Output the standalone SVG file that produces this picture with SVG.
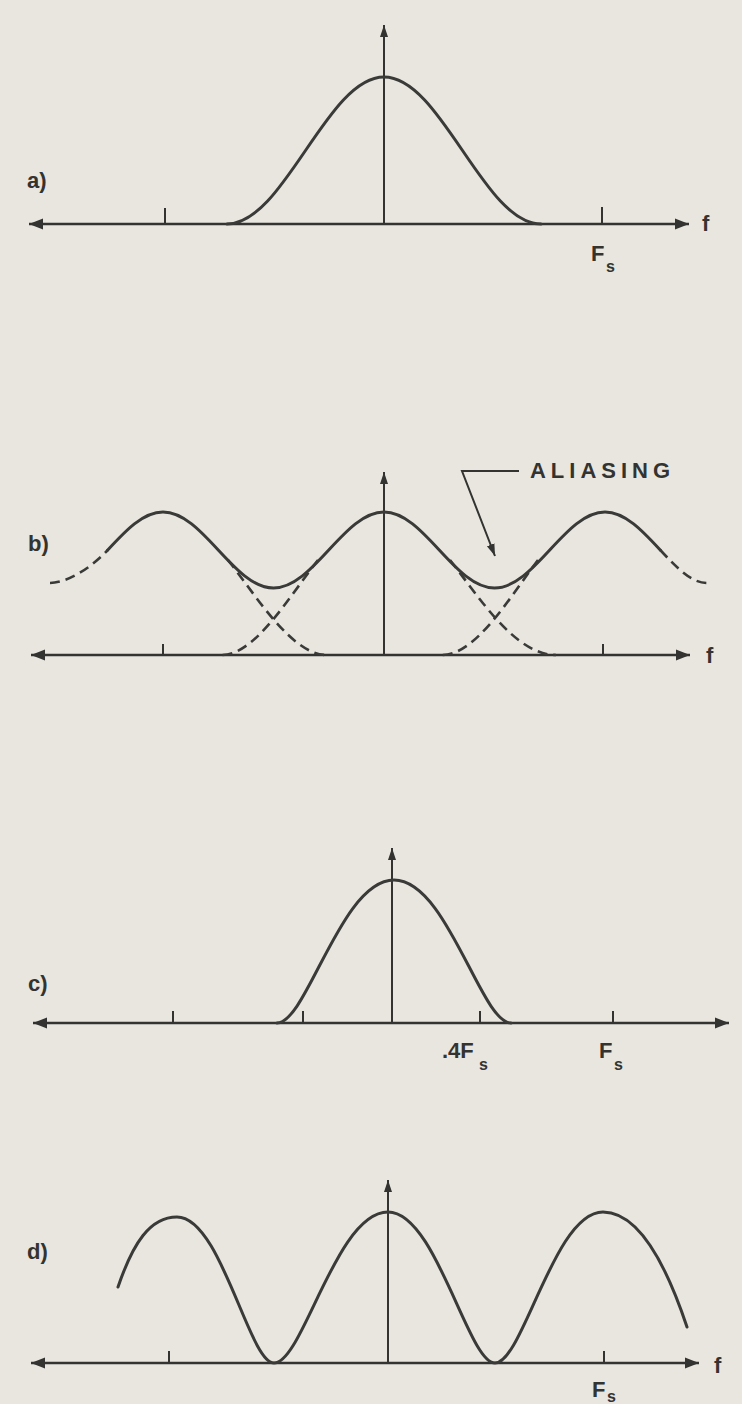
<svg xmlns="http://www.w3.org/2000/svg" width="742" height="1404" viewBox="0 0 742 1404">
<style>
.bg{fill:#e8e6df}
.ax{stroke:#333331;stroke-width:2.5;fill:none}
.vx{stroke:#333331;stroke-width:2;fill:none}
.tk{stroke:#333331;stroke-width:2;fill:none}
.cv{stroke:#3a3a38;stroke-width:3;fill:none;stroke-linecap:round}
.ds{stroke:#3a3a38;stroke-width:2.6;fill:none;stroke-dasharray:10 6}
.lb{font-family:"Liberation Sans",Arial,sans-serif;font-weight:bold;fill:#333331;font-size:22px}
.sub{font-family:"Liberation Sans",Arial,sans-serif;font-weight:bold;fill:#333331;font-size:16px}
</style>
<defs>
<marker id="arr" markerUnits="userSpaceOnUse" markerWidth="16" markerHeight="12" refX="14" refY="6" orient="auto-start-reverse">
<path d="M0,0.5 L14,6 L0,11.5 z" fill="#333331"/>
</marker>
<marker id="arrV" markerUnits="userSpaceOnUse" markerWidth="14" markerHeight="10" refX="12" refY="5" orient="auto">
<path d="M0,1 L12,5 L0,9 z" fill="#333331"/>
</marker>
</defs>
<rect class="bg" x="0" y="0" width="742" height="1404"/>

<g id="panel-a">
<line class="ax" x1="29" y1="224" x2="689" y2="224" marker-start="url(#arr)" marker-end="url(#arr)"/>
<line class="vx" x1="384" y1="224" x2="384" y2="25" marker-end="url(#arrV)"/>
<line class="tk" x1="165" y1="208" x2="165" y2="224"/>
<line class="tk" x1="602" y1="207" x2="602" y2="224"/>
<path class="cv" d="M227,224 C284.2,224 326.8,77 384,77 C441.2,77 483.8,224 541,224"/>
<text class="lb" x="27" y="188">a)</text>
<text class="lb" x="702" y="231" font-size="23">f</text>
<text class="lb" x="591" y="261">F</text>
<text class="sub" x="606" y="272">s</text>
</g>

<g id="panel-b">
<line class="ax" x1="31" y1="655" x2="690" y2="655" marker-start="url(#arr)" marker-end="url(#arr)"/>
<line class="vx" x1="384" y1="655" x2="384" y2="472" marker-end="url(#arrV)"/>
<line class="tk" x1="163" y1="644" x2="163" y2="655"/>
<line class="tk" x1="603" y1="644" x2="603" y2="655"/>
<path class="cv" d="M107.75,550 C125.3,531 142.9,512 163,512 C203.2,512 233.3,588 273.5,588 C313.7,588 343.8,512 384,512 C424.2,512 454.3,588 494.5,588 C534.7,588 564.8,512 605,512 C625.1,512 642.7,531 660.25,550"/>
<path class="ds" d="M50,583 C66,583 90.2,569 107.75,550"/>
<path class="ds" d="M660.25,550 C677.8,569 692,583 707,583"/>
<path class="ds" d="M318,560 C289,597 255,655 222,655"/>
<path class="ds" d="M228,560 C257,597 292,655 327,655"/>
<path class="ds" d="M450,560 C479,597 515,655 556,655"/>
<path class="ds" d="M538,560 C510,597 476,655 442,655"/>
<text class="lb" x="28" y="551">b)</text>
<text class="lb" x="706" y="663" font-size="23">f</text>
</g>

<g id="aliasing-label">
<text class="lb" x="530" y="478" textLength="140" lengthAdjust="spacing">ALIASING</text>
</g>

<g id="panel-c">
<line class="ax" x1="33" y1="1023" x2="729" y2="1023" marker-start="url(#arr)" marker-end="url(#arr)"/>
<line class="vx" x1="392" y1="1023" x2="392" y2="848" marker-end="url(#arrV)"/>
<line class="tk" x1="173" y1="1011" x2="173" y2="1023"/>
<line class="tk" x1="303" y1="1011" x2="303" y2="1023"/>
<line class="tk" x1="480" y1="1011" x2="480" y2="1023"/>
<line class="tk" x1="613" y1="1011" x2="613" y2="1023"/>
<path class="cv" d="M277,1023 C307,1023 341,880 394,880 C447,880 481,1023 511,1023"/>
<text class="lb" x="28" y="991">c)</text>
<text class="lb" x="442" y="1058">.4F</text>
<text class="sub" x="479" y="1070">s</text>
<text class="lb" x="599" y="1058">F</text>
<text class="sub" x="614" y="1070">s</text>
</g>

<g id="panel-d">
<line class="ax" x1="31" y1="1363" x2="699" y2="1363" marker-start="url(#arr)" marker-end="url(#arr)"/>
<line class="vx" x1="388" y1="1363" x2="388" y2="1180" marker-end="url(#arrV)"/>
<line class="tk" x1="169" y1="1351" x2="169" y2="1363"/>
<line class="tk" x1="604" y1="1351" x2="604" y2="1363"/>
<path class="cv" d="M118,1287 C133,1243 150,1217 177,1217 C221,1217 249,1363 274,1363 C303,1363 336,1212 388,1212 C436,1212 468,1363 495,1363 C523,1363 554,1212 603,1212 C640,1212 668,1270 687,1327"/>
<text class="lb" x="27" y="1259">d)</text>
<text class="lb" x="714" y="1373" font-size="23">f</text>
<text class="lb" x="592" y="1397">F</text>
<text class="sub" x="607" y="1402" font-size="13">s</text>
</g>

<g id="connectors">
<path class="vx" d="M519,471 L462,471 L495,556" marker-end="url(#arrV)"/>
</g>
</svg>
